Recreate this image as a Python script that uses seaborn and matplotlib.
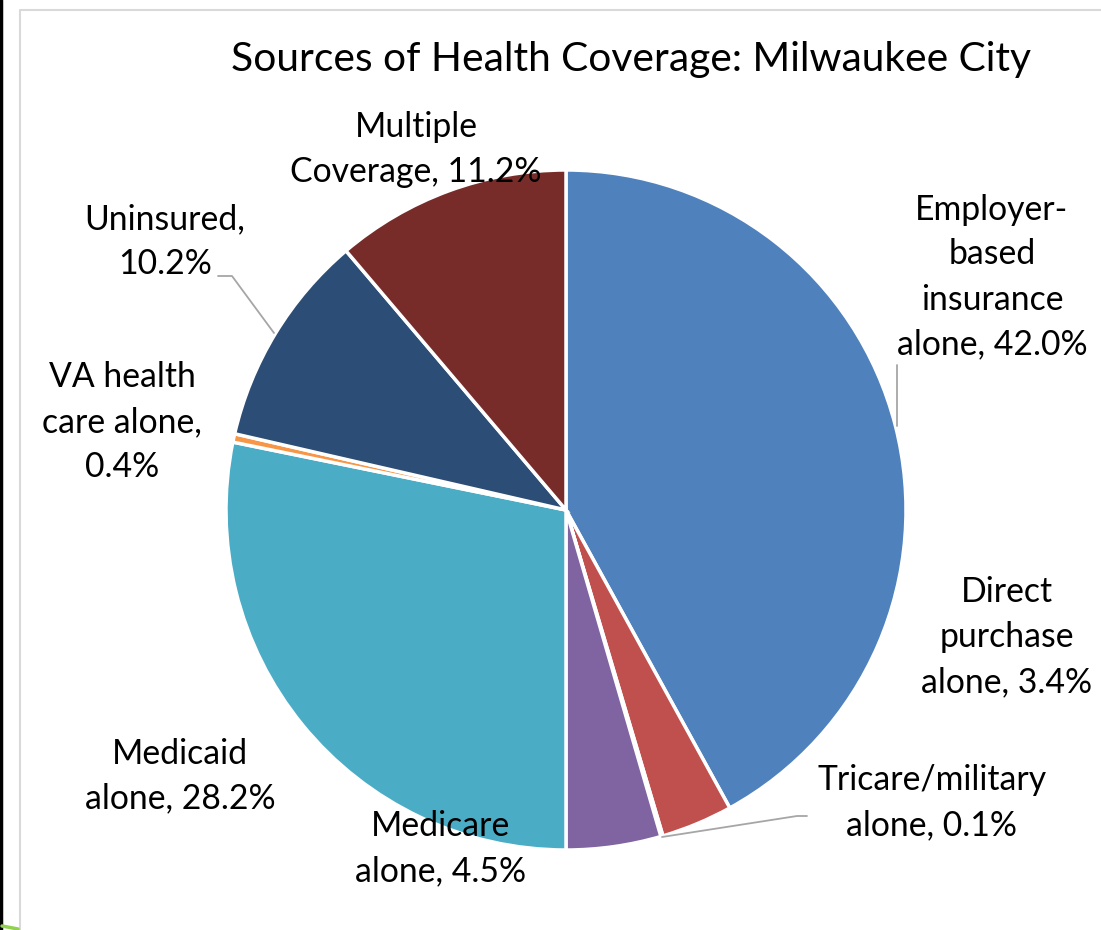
import matplotlib
matplotlib.use("Agg")
import matplotlib.pyplot as plt
import seaborn as sns

# Sources of health coverage, Milwaukee City (percent of population)
categories = [
    "Employer-based insurance alone",
    "Direct purchase alone",
    "Tricare/military alone",
    "Medicare alone",
    "Medicaid alone",
    "VA health care alone",
    "Uninsured",
    "Multiple Coverage",
]
shares = [42.0, 3.4, 0.1, 4.5, 28.2, 0.4, 10.2, 11.2]
label_text = [
    "Employer-\nbased\ninsurance\nalone, 42.0%",
    "Direct\npurchase\nalone, 3.4%",
    "Tricare/military\nalone, 0.1%",
    "Medicare\nalone, 4.5%",
    "Medicaid\nalone, 28.2%",
    "VA health\ncare alone,\n0.4%",
    "Uninsured,\n10.2%",
    "Multiple\nCoverage, 11.2%",
]
slice_colors = ["#4F81BD", "#C0504D", "#9BBB59", "#8064A2",
                "#4BACC6", "#F79646", "#2C4D75", "#772C2A"]

sns.set_theme(style="white")
plt.rcParams["font.family"] = ["Lato", "DejaVu Sans"]
palette = sns.color_palette(slice_colors)

W, H = 1101, 930
fig = plt.figure(figsize=(W / 100, H / 100), dpi=100)
ax = fig.add_axes([0, 0, 1, 1])


def py(y):
    # convert a top-down pixel row to axis units
    return H - y


cx, cy, r = 566, 510, 340
ax.pie(shares, colors=palette, startangle=90, counterclock=False,
       center=(cx, py(cy)), radius=r,
       wedgeprops=dict(edgecolor="white", linewidth=2.5))
ax.set_xlim(0, W)
ax.set_ylim(0, H)
ax.set_aspect("equal")
ax.set_axis_off()

# data labels
label_pos = [(992, 277), (1007, 637), (932, 803), (441, 849),
             (180, 776), (122, 422), (165, 242), (416, 150)]
for txt, (x, y) in zip(label_text, label_pos):
    ax.text(x, py(y), txt, ha="center", va="center", fontsize=24.3,
            color="#000000", linespacing=1.5, zorder=5)

# leader lines
lead = dict(color="#A6A6A6", lw=1.3, zorder=4)
ax.plot([897, 897], [py(365), py(426)], **lead)
ax.plot([662, 797, 807], [py(837), py(816), py(816)], **lead)
ax.plot([218, 232, 274], [py(276), py(276), py(333)], **lead)

# title
ax.text(631, py(60), "Sources of Health Coverage: Milwaukee City",
        ha="center", va="center", fontsize=29.3, color="#000000")

# chart frame and page edges
ax.plot([19.5, 19.5, W + 5], [py(H + 5), py(10.5), py(10.5)],
        color="#D9D9D9", lw=1.5, zorder=1)
ax.plot([1.2, 1.2], [0, H], color="#000000", lw=2.5, zorder=1)
ax.plot([2, 18], [py(926), py(929)], color="#92D050", lw=2.5, zorder=1)

fig.savefig("out.png", dpi=100, facecolor="white")
